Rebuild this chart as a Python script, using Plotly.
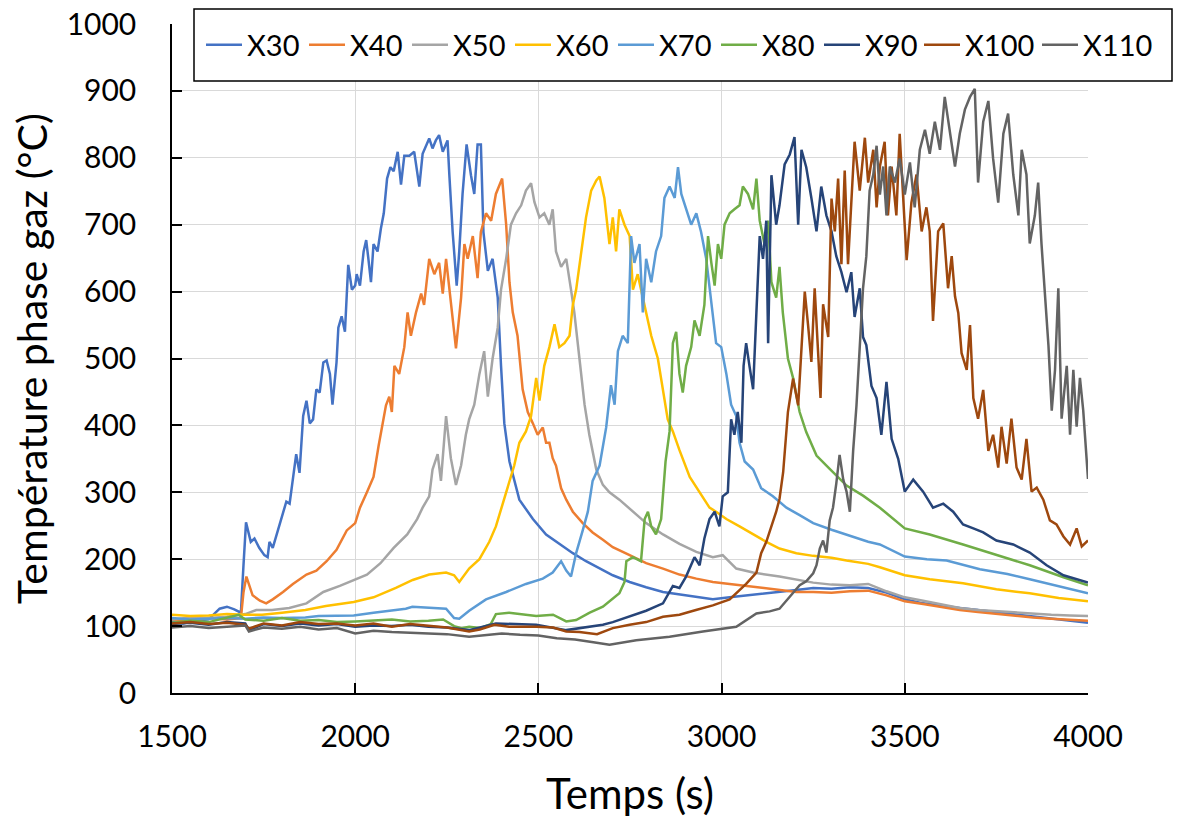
import plotly.graph_objects as go

# ---------------- data ----------------
series_names = ["X30", "X40", "X50", "X60", "X70", "X80", "X90", "X100", "X110"]
series_colors = ["#4472C4", "#ED7D31", "#A5A5A5", "#FFC000", "#5B9BD5",
                 "#70AD47", "#264478", "#9E480E", "#636363"]

t_X30 = [1500, 1530, 1560, 1600, 1630, 1650, 1670, 1688, 1695, 1702, 1715, 1725, 1738, 1752, 1761, 1766,
         1775, 1793, 1812, 1821, 1830, 1839, 1848, 1858, 1867, 1876, 1885, 1894, 1903, 1913, 1922, 1931,
         1938, 1949, 1954, 1963, 1972, 1977, 1981, 1991, 2000, 2004, 2013, 2023, 2030, 2036, 2043, 2050,
         2061, 2070, 2078, 2087, 2096, 2105, 2116, 2125, 2134, 2148, 2161, 2175, 2184, 2202, 2211, 2220,
         2229, 2239, 2252, 2257, 2266, 2277, 2284, 2293, 2304, 2316, 2325, 2334, 2343, 2350, 2362, 2375,
         2389, 2398, 2407, 2421, 2448, 2485, 2521, 2557, 2594, 2630, 2667, 2703, 2749, 2794, 2840, 2885,
         2931, 2976, 3022, 3067, 3113, 3158, 3204, 3250, 3300, 3350, 3400, 3450, 3500, 3550, 3600, 3650,
         3700, 3750, 3800, 3850, 3900, 3950, 4000]
T_X30 = [107, 104, 108, 110, 126, 129, 125, 120, 190, 255, 226, 231, 217, 206, 203, 226,
         217, 249, 286, 283, 317, 357, 329, 414, 437, 403, 409, 454, 449, 494, 497, 477,
         431, 494, 546, 563, 540, 591, 640, 603, 609, 626, 609, 660, 677, 649, 614, 671,
         660, 694, 717, 769, 786, 780, 809, 760, 803, 803, 809, 757, 806, 829, 814, 826,
         834, 809, 826, 774, 689, 609, 660, 746, 820, 774, 746, 820, 820, 689, 631, 649,
         591, 489, 403, 346, 289, 260, 237, 223, 209, 197, 186, 176, 166, 158, 151, 147,
         143, 140, 143, 146, 149, 151, 154, 157, 156, 158, 157, 150, 140, 134, 130, 127,
         124, 121, 118, 115, 112, 108, 105]

t_X40 = [1500, 1550, 1600, 1650, 1688, 1695, 1703, 1720, 1740, 1757, 1775, 1803, 1830, 1867, 1894, 1922,
         1949, 1977, 2000, 2013, 2032, 2050, 2064, 2075, 2084, 2093, 2100, 2107, 2120, 2134, 2143, 2152,
         2166, 2180, 2188, 2202, 2216, 2229, 2239, 2248, 2261, 2275, 2289, 2298, 2307, 2321, 2334, 2343,
         2357, 2371, 2384, 2401, 2412, 2421, 2430, 2443, 2457, 2471, 2485, 2498, 2512, 2521, 2530, 2539,
         2548, 2562, 2576, 2594, 2621, 2648, 2676, 2703, 2749, 2794, 2840, 2885, 2931, 2976, 3022, 3067,
         3113, 3158, 3204, 3250, 3300, 3350, 3400, 3450, 3500, 3550, 3600, 3650, 3700, 3750, 3800, 3850,
         3900, 3950, 4000]
T_X40 = [110, 108, 112, 110, 112, 150, 174, 146, 138, 134, 140, 151, 163, 177, 183, 197,
         214, 243, 254, 277, 300, 323, 370, 403, 430, 443, 420, 489, 477, 517, 569, 534,
         569, 597, 580, 649, 626, 643, 597, 649, 580, 515, 591, 671, 649, 683, 620, 689,
         717, 706, 746, 769, 700, 614, 569, 534, 454, 420, 403, 386, 397, 374, 374, 351,
         340, 306, 289, 271, 254, 240, 229, 218, 206, 194, 186, 177, 171, 166, 163, 160,
         157, 154, 151, 151, 150, 152, 153, 146, 137, 133, 128, 124, 121, 118, 115, 113,
         111, 109, 108]

t_X50 = [1500, 1550, 1600, 1650, 1700, 1730, 1773, 1820, 1867, 1913, 1958, 2000, 2032, 2069, 2105, 2142,
         2169, 2184, 2202, 2211, 2225, 2234, 2248, 2261, 2275, 2289, 2302, 2311, 2325, 2339, 2352, 2362,
         2375, 2389, 2398, 2412, 2425, 2439, 2453, 2466, 2480, 2489, 2503, 2516, 2530, 2539, 2548, 2562,
         2576, 2589, 2598, 2612, 2626, 2639, 2658, 2676, 2694, 2721, 2758, 2794, 2840, 2885, 2931, 2976,
         3003, 3040, 3086, 3158, 3250, 3300, 3350, 3400, 3450, 3500, 3550, 3600, 3650, 3700, 3750, 3800,
         3850, 3900, 3950, 4000]
T_X50 = [110, 113, 112, 114, 118, 124, 124, 127, 134, 151, 160, 169, 177, 194, 217, 237,
         260, 277, 294, 334, 357, 317, 414, 351, 311, 340, 386, 409, 431, 477, 511, 443,
         500, 546, 603, 649, 700, 717, 729, 751, 762, 734, 711, 717, 700, 723, 660, 637,
         649, 603, 569, 500, 431, 386, 334, 311, 300, 289, 271, 254, 237, 223, 211, 203,
         206, 186, 180, 174, 165, 162, 161, 163, 152, 143, 138, 132, 127, 124, 122, 121,
         119, 117, 116, 115]

t_X60 = [1500, 1550, 1600, 1650, 1700, 1746, 1800, 1864, 1920, 1996, 2050, 2111, 2157, 2202, 2248, 2270,
         2284, 2311, 2339, 2366, 2384, 2403, 2421, 2434, 2448, 2466, 2480, 2494, 2503, 2516, 2530, 2544,
         2557, 2571, 2585, 2594, 2603, 2617, 2630, 2644, 2658, 2667, 2680, 2694, 2703, 2712, 2721, 2735,
         2749, 2758, 2771, 2785, 2794, 2808, 2826, 2840, 2853, 2867, 2885, 2913, 2940, 2967, 2985, 3013,
         3049, 3086, 3122, 3158, 3204, 3250, 3300, 3341, 3400, 3432, 3500, 3568, 3659, 3750, 3841, 3920,
         4000]
T_X60 = [117, 115, 116, 118, 117, 117, 120, 124, 130, 136, 143, 157, 169, 177, 180, 176,
         166, 186, 200, 226, 249, 283, 317, 340, 374, 391, 414, 471, 437, 489, 517, 551,
         517, 523, 534, 580, 603, 660, 711, 751, 766, 772, 740, 671, 711, 660, 723, 700,
         683, 603, 626, 591, 569, 534, 500, 454, 409, 391, 363, 323, 300, 277, 271, 260,
         249, 237, 226, 216, 209, 205, 202, 198, 193, 188, 176, 170, 164, 155, 149, 142,
         137]

t_X70 = [1500, 1550, 1600, 1650, 1700, 1750, 1800, 1864, 1900, 1996, 2050, 2100, 2138, 2156, 2202, 2248,
         2270, 2284, 2311, 2357, 2412, 2466, 2512, 2539, 2562, 2576, 2589, 2603, 2621, 2635, 2648, 2667,
         2685, 2698, 2708, 2717, 2730, 2744, 2753, 2762, 2776, 2785, 2794, 2808, 2821, 2835, 2844, 2858,
         2872, 2881, 2890, 2903, 2917, 2931, 2944, 2958, 2972, 2985, 2999, 3013, 3026, 3040, 3049, 3063,
         3086, 3108, 3140, 3177, 3213, 3250, 3300, 3341, 3400, 3432, 3500, 3560, 3614, 3705, 3780, 3841,
         3920, 4000]
T_X70 = [112, 110, 111, 112, 111, 113, 112, 113, 115, 116, 120, 123, 126, 129, 127, 126,
         112, 111, 123, 140, 151, 163, 171, 180, 197, 183, 174, 209, 243, 271, 317, 340,
         397, 460, 431, 511, 534, 523, 683, 643, 671, 569, 649, 614, 660, 683, 740, 757,
         740, 786, 746, 723, 700, 717, 689, 649, 586, 523, 517, 477, 431, 414, 374, 346,
         334, 306, 294, 277, 266, 254, 244, 237, 226, 222, 204, 200, 198, 185, 178, 170,
         160, 149]

t_X80 = [1500, 1550, 1600, 1682, 1700, 1750, 1800, 1850, 1900, 1950, 2000, 2050, 2100, 2150, 2200, 2240,
         2270, 2290, 2311, 2340, 2370, 2384, 2420, 2494, 2540, 2576, 2603, 2640, 2676, 2721, 2735, 2740,
         2758, 2780, 2790, 2799, 2808, 2821, 2835, 2847, 2858, 2867, 2876, 2885, 2894, 2903, 2917, 2926,
         2940, 2953, 2963, 2972, 2981, 2990, 2999, 3008, 3022, 3035, 3049, 3058, 3072, 3086, 3095, 3104,
         3117, 3127, 3136, 3149, 3158, 3167, 3181, 3195, 3213, 3231, 3259, 3295, 3341, 3386, 3432, 3500,
         3568, 3659, 3750, 3841, 3933, 4000]
T_X80 = [105, 108, 106, 117, 110, 108, 112, 108, 109, 106, 107, 109, 110, 107, 108, 110,
         100, 97, 99, 97, 103, 118, 120, 115, 117, 107, 109, 120, 129, 149, 166, 197,
         203, 197, 260, 271, 249, 237, 260, 346, 391, 523, 540, 477, 449, 489, 517, 557,
         534, 580, 683, 643, 609, 671, 649, 700, 717, 723, 729, 757, 746, 723, 769, 706,
         671, 706, 614, 591, 637, 569, 500, 471, 420, 390, 355, 335, 310, 295, 277, 246,
         237, 222, 207, 191, 173, 161]

t_X90 = [1500, 1550, 1600, 1650, 1700, 1710, 1750, 1800, 1850, 1900, 1950, 2000, 2050, 2100, 2150, 2200,
         2250, 2311, 2384, 2494, 2576, 2612, 2676, 2703, 2749, 2794, 2840, 2867, 2885, 2903, 2926, 2940,
         2953, 2967, 2981, 2994, 3003, 3017, 3026, 3035, 3044, 3054, 3060, 3067, 3076, 3086, 3095, 3104,
         3113, 3122, 3127, 3136, 3149, 3158, 3172, 3186, 3199, 3209, 3218, 3231, 3245, 3259, 3272, 3286,
         3300, 3313, 3327, 3341, 3354, 3363, 3377, 3386, 3395, 3409, 3423, 3436, 3450, 3464, 3482, 3500,
         3523, 3550, 3577, 3605, 3632, 3659, 3687, 3714, 3750, 3796, 3841, 3887, 3933, 3969, 4000]
T_X90 = [103, 105, 102, 106, 104, 94, 103, 100, 104, 101, 103, 99, 101, 100, 102, 99,
         98, 94, 104, 102, 94, 97, 102, 106, 114, 123, 134, 160, 157, 174, 203, 191,
         231, 260, 271, 249, 294, 300, 409, 386, 420, 374, 489, 523, 489, 454, 569, 683,
         649, 706, 523, 774, 700, 729, 790, 805, 831, 700, 812, 786, 740, 690, 757, 714,
         690, 653, 629, 599, 629, 562, 605, 532, 520, 459, 441, 386, 465, 380, 350, 301,
         319, 301, 277, 283, 271, 252, 246, 240, 228, 222, 210, 191, 176, 170, 165]

t_X100 = [1500, 1550, 1600, 1650, 1700, 1710, 1750, 1800, 1850, 1900, 1950, 2000, 2050, 2100, 2150, 2200,
          2250, 2311, 2340, 2380, 2420, 2494, 2540, 2576, 2612, 2660, 2703, 2749, 2794, 2840, 2885, 2930,
          2976, 3022, 3040, 3067, 3095, 3108, 3122, 3136, 3149, 3158, 3168, 3181, 3195, 3209, 3218, 3227,
          3236, 3245, 3254, 3263, 3270, 3277, 3291, 3300, 3309, 3318, 3327, 3336, 3345, 3354, 3363, 3377,
          3391, 3400, 3414, 3423, 3432, 3445, 3454, 3464, 3477, 3486, 3495, 3505, 3518, 3532, 3546, 3559,
          3568, 3577, 3591, 3605, 3618, 3628, 3637, 3646, 3655, 3669, 3678, 3687, 3700, 3714, 3728, 3741,
          3755, 3764, 3778, 3791, 3805, 3819, 3832, 3846, 3860, 3878, 3896, 3914, 3933, 3951, 3969, 3983,
          4000]
T_X100 = [104, 106, 103, 105, 102, 96, 104, 101, 106, 103, 104, 101, 104, 99, 103, 100,
          98, 92, 95, 102, 99, 99, 98, 92, 91, 88, 97, 102, 106, 114, 117, 124,
          131, 140, 149, 163, 180, 209, 226, 249, 271, 290, 330, 420, 470, 430, 508, 600,
          550, 495, 605, 508, 441, 581, 532, 739, 690, 769, 641, 781, 641, 733, 824, 751,
          830, 763, 812, 726, 787, 824, 714, 787, 714, 836, 745, 647, 733, 775, 690, 726,
          690, 556, 690, 702, 605, 653, 593, 568, 508, 483, 550, 441, 410, 453, 362, 386,
          337, 398, 343, 410, 337, 319, 380, 301, 307, 289, 258, 252, 234, 222, 246, 219,
          228]

t_X110 = [1500, 1550, 1600, 1650, 1700, 1710, 1750, 1800, 1850, 1900, 1950, 2000, 2050, 2100, 2150, 2200,
          2250, 2311, 2350, 2400, 2450, 2500, 2550, 2600, 2650, 2694, 2767, 2858, 2949, 3040, 3095, 3131,
          3158, 3186, 3213, 3231, 3250, 3259, 3268, 3277, 3286, 3295, 3304, 3313, 3322, 3332, 3341, 3350,
          3359, 3368, 3377, 3386, 3395, 3404, 3414, 3423, 3432, 3441, 3450, 3459, 3473, 3486, 3500, 3514,
          3527, 3541, 3555, 3568, 3582, 3596, 3609, 3623, 3637, 3650, 3664, 3678, 3691, 3700, 3714, 3728,
          3741, 3755, 3769, 3782, 3796, 3810, 3819, 3832, 3841, 3855, 3864, 3873, 3882, 3892, 3901, 3910,
          3919, 3928, 3942, 3951, 3960, 3969, 3978, 3987, 4000]
T_X110 = [98, 100, 97, 99, 101, 92, 98, 96, 99, 95, 97, 89, 93, 91, 90, 89,
          88, 84, 86, 89, 87, 86, 82, 80, 76, 72, 79, 84, 92, 99, 119, 122,
          126, 143, 161, 167, 179, 191, 216, 228, 210, 258, 277, 313, 356, 319, 301, 271,
          362, 429, 520, 605, 653, 751, 775, 818, 745, 787, 714, 787, 763, 799, 745, 793,
          726, 812, 842, 806, 854, 812, 891, 836, 787, 836, 872, 891, 903, 763, 854, 885,
          799, 733, 836, 866, 775, 714, 812, 775, 672, 714, 763, 672, 593, 520, 422, 483,
          605, 410, 489, 386, 483, 398, 471, 422, 320]

times = [t_X30, t_X40, t_X50, t_X60, t_X70, t_X80, t_X90, t_X100, t_X110]
temps = [T_X30, T_X40, T_X50, T_X60, T_X70, T_X80, T_X90, T_X100, T_X110]

x_ticks = [1500, 2000, 2500, 3000, 3500, 4000]
y_ticks = [0, 100, 200, 300, 400, 500, 600, 700, 800, 900, 1000]

# ---------------- figure ----------------
FONT = "Lato"
W, H = 1182, 819
OFF = 0  # body margin removed by post_script below
L, R, T, B = 172 - OFF, W - 1088 + OFF, 24 - OFF, H - 693 + OFF
PW, PH = W - L - R, H - T - B

fig = go.Figure()
for i, (name, color, tx, ty) in enumerate(zip(series_names, series_colors, times, temps)):
    fig.add_trace(go.Scatter(x=tx, y=ty, mode="lines", name=name,
                             legend="legend" if i < 7 else "legend2",
                             line=dict(color=color, width=2.5)))

# legend frame (white box with black border); screen coords 194..1172 x 9..81
fig.add_shape(type="rect", xref="paper", yref="paper",
              x0=(194 - 172) / PW, x1=(1172 - 172) / PW,
              y0=(693 - 81) / PH, y1=(693 - 9) / PH,
              line=dict(color="black", width=1.5), fillcolor="white", layer="above")

legend_common = dict(orientation="h", xanchor="left", xref="container", yref="container",
                     y=1 - (45 - OFF) / H, yanchor="middle",
                     bgcolor="rgba(0,0,0,0)", borderwidth=0,
                     font=dict(family=FONT, size=29, color="black"),
                     itemwidth=36, traceorder="normal", entrywidthmode="pixels")

fig.update_layout(
    width=W, height=H,
    margin=dict(l=L, r=R, t=T, b=B, autoexpand=False),
    paper_bgcolor="white", plot_bgcolor="white",
    font=dict(family=FONT, color="black"),
    legend=dict(legend_common, x=(201 - OFF) / W, entrywidth=52),
    legend2=dict(legend_common, x=(919 - OFF) / W, entrywidth=67),
    showlegend=True,
)
fig.update_xaxes(range=[1500, 4000], tickvals=x_ticks, automargin=False,
                 showgrid=True, gridcolor="#D9D9D9", gridwidth=1,
                 showline=True, linecolor="black", linewidth=1.5,
                 ticks="inside", ticklen=10, tickcolor="black", tickwidth=1.5,
                 ticklabelstandoff=16, ticklabeloverflow="allow",
                 tickfont=dict(family=FONT, size=30, color="black"),
                 title=dict(text="Temps (s)", font=dict(family=FONT, size=42, color="black"),
                            standoff=28),
                 zeroline=False)
fig.update_yaxes(range=[0, 1000], tickvals=y_ticks, automargin=False,
                 showgrid=True, gridcolor="#D9D9D9", gridwidth=1,
                 showline=True, linecolor="black", linewidth=1.5,
                 ticks="inside", ticklen=10, tickcolor="black", tickwidth=1.5,
                 ticklabelstandoff=28, ticklabeloverflow="allow",
                 tickfont=dict(family=FONT, size=30, color="black"),
                 title=dict(text="Température phase gaz (°C)",
                            font=dict(family=FONT, size=41, color="black"), standoff=6),
                 zeroline=False)

fig.write_html("out.html", config={"displayModeBar": False},
               post_script="document.body.style.margin='0';")
